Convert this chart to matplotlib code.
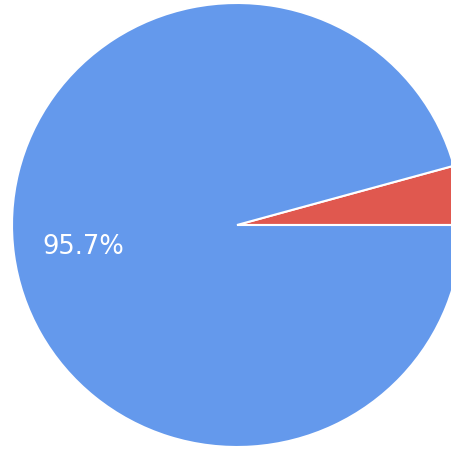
import matplotlib.pyplot as plt

# Data
labels = ["B", "A"]
shares = [95.7, 4.3]
colors = ["#6499ec", "#e0584f"]

# Figure: 452 x 452 px, pie fills the canvas and is clipped on the right
fig = plt.figure(figsize=(4.52, 4.52), dpi=100)
ax = fig.add_axes([0, 0, 1, 1])

rx_px, ry_px, cx, cy = 225.0, 222.0, 237.0, 226.0

def pct(p):
    return f"{p:.1f}%" if p > 5 else ""

wedges, texts, autotexts = ax.pie(
    shares[::-1], colors=colors[::-1], startangle=0, counterclock=True,
    autopct=pct, pctdistance=0.69,
    wedgeprops=dict(edgecolor="white", linewidth=1.5),
    textprops=dict(color="white", fontsize=18.5, family="DejaVu Sans"),
)

ax.set_aspect("auto")
ax.set_xlim(-cx / rx_px, (452 - cx) / rx_px)
ax.set_ylim(-(452 - cy) / ry_px, cy / ry_px)
ax.axis("off")

plt.savefig("out.png", dpi=100)
